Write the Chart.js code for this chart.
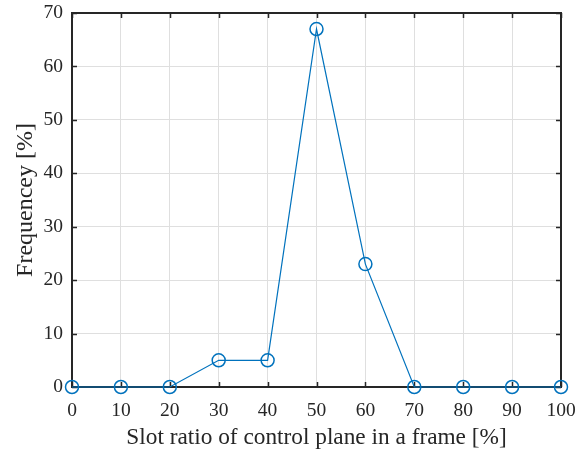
<!DOCTYPE html>
<html><head><meta charset="utf-8">
<script src="https://cdn.jsdelivr.net/npm/chart.js@4.4.1/dist/chart.umd.min.js"></script>
<style>html,body{margin:0;padding:0;background:#fff}#wrap{width:585px;height:452px}</style>
</head><body><div id="wrap"><canvas id="c" width="585" height="452"></canvas></div>
<script>
const slotRatio = [0,10,20,30,40,50,60,70,80,90,100];
const frequency = [0,0,0,5,5,67,23,0,0,0,0];
const xTicks = [0,10,20,30,40,50,60,70,80,90,100];
const yTicks = [0,10,20,30,40,50,60,70];
const xTitle = 'Slot ratio of control plane in a frame [%]';
const yTitle = 'Frequencey [%]';

const FONT = "'Liberation Serif','Times New Roman',serif";
const BLUE = '#0072BD';
const AX = '#262626';

const boxPlugin = {
  id: 'box',
  beforeDatasetsDraw(chart) {
    const {ctx, chartArea: a, scales: {x, y}} = chart;
    ctx.save();
    ctx.strokeStyle = AX;
    ctx.lineWidth = 1.5;
    const tl = 5;
    ctx.beginPath();
    xTicks.forEach(v => {
      const px = Math.round(x.getPixelForValue(v)) + 0.5;
      ctx.moveTo(px, a.bottom); ctx.lineTo(px, a.bottom - tl);
      ctx.moveTo(px, a.top); ctx.lineTo(px, a.top + tl);
    });
    yTicks.forEach(v => {
      const py = Math.round(y.getPixelForValue(v)) + 0.5;
      ctx.moveTo(a.left, py); ctx.lineTo(a.left + tl, py);
      ctx.moveTo(a.right, py); ctx.lineTo(a.right - tl, py);
    });
    ctx.stroke();
    ctx.lineWidth = 2;
    ctx.strokeRect(a.left, a.top, a.right - a.left, a.bottom - a.top);
    ctx.restore();
  }
};

new Chart(document.getElementById('c'), {
  type: 'line',
  data: {
    datasets: [{
      data: slotRatio.map((v, i) => ({x: v, y: frequency[i]})),
      borderColor: BLUE,
      borderWidth: 1.2,
      pointRadius: 6.5,
      pointHoverRadius: 6.5,
      pointBorderWidth: 1.5,
      pointBorderColor: BLUE,
      pointBackgroundColor: 'rgba(0,0,0,0)',
      tension: 0,
      clip: false
    }]
  },
  options: {
    responsive: false,
    animation: false,
    events: [],
    layout: {padding: {left: 0, right: 24, top: 13, bottom: 0}},
    plugins: {legend: {display: false}, tooltip: {enabled: false}},
    scales: {
      x: {
        type: 'linear', min: 0, max: 100,
        afterBuildTicks(s) { s.ticks = xTicks.map(v => ({value: v})); },
        afterFit(s) { s.height = 65; s.paddingLeft = 0; s.paddingRight = 0; },
        grid: {color: '#dfdfdf', lineWidth: 1, drawTicks: false},
        border: {display: false},
        ticks: {color: AX, font: {family: FONT, size: 19.5}, padding: 12, maxRotation: 0, autoSkip: false},
        title: {display: true, text: xTitle, color: AX, font: {family: FONT, size: 23.3}, padding: {top: 0, bottom: 0}}
      },
      y: {
        type: 'linear', min: 0, max: 70,
        afterBuildTicks(s) { s.ticks = yTicks.map(v => ({value: v})); },
        afterFit(s) { s.width = 72; s.paddingTop = 0; s.paddingBottom = 0; },
        grid: {color: '#dfdfdf', lineWidth: 1, drawTicks: false},
        border: {display: false},
        ticks: {color: AX, font: {family: FONT, size: 19.5}, padding: 9, autoSkip: false},
        title: {display: true, text: yTitle, color: AX, font: {family: FONT, size: 24}, padding: {top: 11, bottom: 0}}
      }
    }
  },
  plugins: [boxPlugin]
});
</script></body></html>
